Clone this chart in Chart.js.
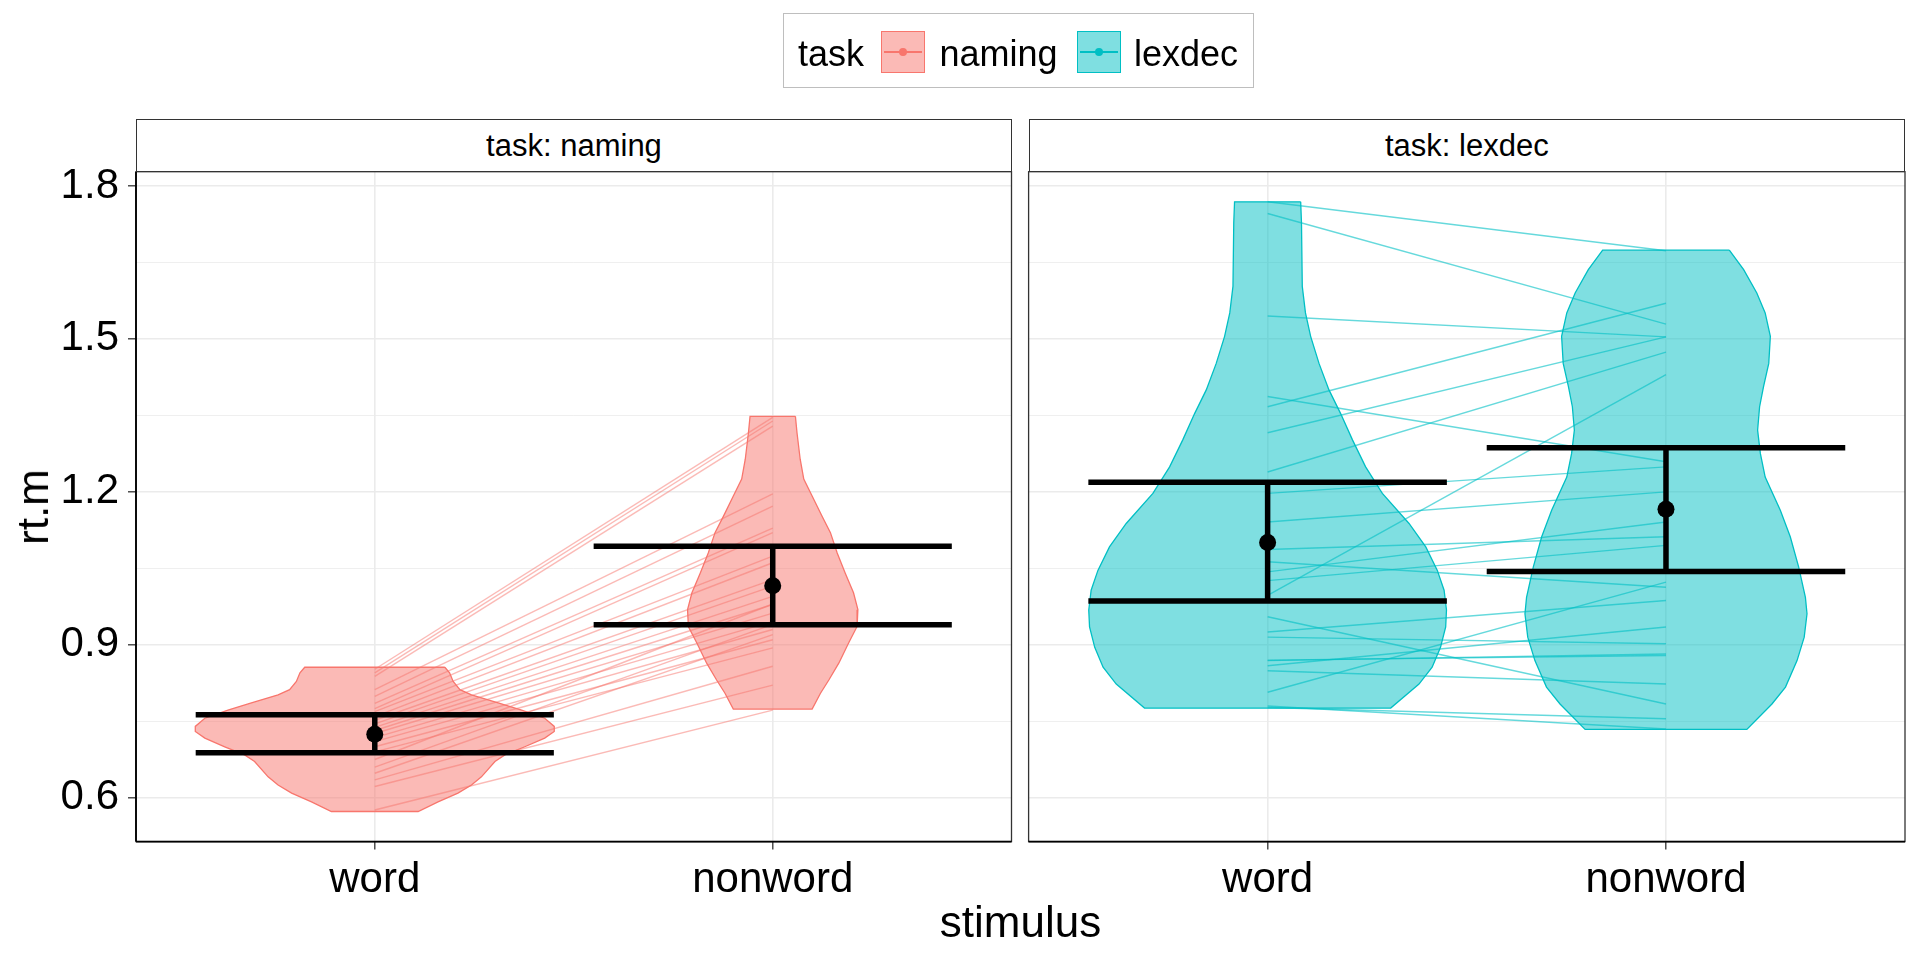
<!DOCTYPE html>
<html>
<head>
<meta charset="utf-8">
<script src="https://cdn.jsdelivr.net/npm/chart.js@4.4.1/dist/chart.umd.min.js"></script>
<style>
html,body{margin:0;padding:0;background:#fff;}
body{width:1920px;height:960px;position:relative;overflow:hidden;font-family:"Liberation Sans",Arial,sans-serif;color:#000;}
canvas{position:absolute;top:0;}
.strip{position:absolute;top:119.4px;height:52.3px;box-sizing:border-box;border:1.3px solid #333;background:#fff;display:flex;align-items:center;justify-content:center;font-size:31px;line-height:31px;white-space:nowrap;}
.txt{position:absolute;white-space:nowrap;}
.key{position:absolute;top:30.5px;width:44px;height:42.5px;box-sizing:border-box;border:1.5px solid;}
.key .ln{position:absolute;left:2px;right:2px;top:19.5px;height:1.6px;}
.key .dt{position:absolute;left:16.5px;top:16.3px;width:8px;height:8px;border-radius:50%;}
</style>
</head>
<body>
<canvas id="c1" width="1020" height="960" style="left:0;width:1020px;height:960px;"></canvas>
<canvas id="c2" width="900" height="960" style="left:1020px;width:900px;height:960px;"></canvas>

<div class="strip" style="left:136px;width:876px;">task: naming</div>
<div class="strip" style="left:1028.6px;width:876.4px;">task: lexdec</div>

<div class="txt" style="left:33px;top:507px;font-size:44px;line-height:44px;transform:translate(-50%,-50%) rotate(-90deg);">rt.m</div>
<div class="txt" style="left:820.5px;width:400px;text-align:center;top:899.8px;font-size:44px;line-height:44px;">stimulus</div>

<div style="position:absolute;left:783px;top:13.3px;width:471px;height:75.2px;box-sizing:border-box;border:1.3px solid #BEBEBE;"></div>
<div class="txt" style="left:798px;top:35.8px;font-size:36px;line-height:36px;">task</div>
<div class="key" style="left:881px;border-color:#F8766D;background:rgba(248,118,109,0.5);"><div class="ln" style="background:#F8766D;"></div><div class="dt" style="background:#F8766D;"></div></div>
<div class="txt" style="left:939.5px;top:35.8px;font-size:36px;line-height:36px;">naming</div>
<div class="key" style="left:1077px;border-color:#00BFC4;background:rgba(0,191,196,0.5);"><div class="ln" style="background:#00BFC4;"></div><div class="dt" style="background:#00BFC4;"></div></div>
<div class="txt" style="left:1134px;top:35.8px;font-size:36px;line-height:36px;">lexdec</div>

<script>
// ---------- data ----------
const categories = ['word', 'nonword'];
const tasks = ['naming', 'lexdec'];
const yMajorTicks = [0.6, 0.9, 1.2, 1.5, 1.8];
const yMinorTicks = [0.75, 1.05, 1.35, 1.65];

// violin outlines: rt.m values (top to bottom) and half-widths (x units)
const namingWordViolinY = [0.856,0.845,0.828,0.812,0.802,0.786,0.772,0.756,0.740,0.730,0.717,0.700,0.684,0.671,0.641,0.625,0.609,0.592,0.573];
const namingWordViolinW = [0.176,0.188,0.197,0.214,0.243,0.310,0.369,0.427,0.451,0.451,0.427,0.377,0.327,0.302,0.268,0.243,0.209,0.159,0.109];
const namingNonwordViolinY = [1.348,1.316,1.264,1.225,1.192,1.152,1.120,1.080,1.041,1.002,0.969,0.936,0.904,0.864,0.831,0.805,0.774];
const namingNonwordViolinW = [0.057,0.061,0.069,0.078,0.099,0.124,0.145,0.162,0.182,0.203,0.214,0.212,0.191,0.166,0.141,0.120,0.099];
const lexdecWordViolinY = [1.769,1.728,1.603,1.551,1.505,1.452,1.400,1.354,1.302,1.249,1.197,1.138,1.092,1.046,1.007,0.968,0.935,0.895,0.856,0.823,0.776];
const lexdecWordViolinW = [0.083,0.085,0.087,0.095,0.108,0.129,0.154,0.183,0.213,0.246,0.288,0.355,0.397,0.426,0.443,0.449,0.447,0.434,0.413,0.380,0.309];
const lexdecNonwordViolinY = [1.674,1.636,1.590,1.551,1.505,1.452,1.407,1.367,1.321,1.275,1.229,1.164,1.112,1.053,0.993,0.961,0.915,0.869,0.817,0.784,0.734];
const lexdecNonwordViolinW = [0.159,0.195,0.228,0.249,0.262,0.258,0.245,0.235,0.230,0.237,0.249,0.287,0.312,0.333,0.350,0.354,0.347,0.329,0.300,0.266,0.203];

// per-participant means (word -> nonword)
const namingWord    = [0.852,0.845,0.838,0.812,0.799,0.785,0.775,0.769,0.759,0.752,0.745,0.738,0.732,0.726,0.718,0.710,0.700,0.690,0.675,0.660,0.648,0.635,0.622,0.576];
const namingNonword = [1.346,1.339,1.329,1.196,1.172,1.129,1.120,1.074,1.061,1.028,1.015,0.995,0.979,0.962,0.946,0.930,0.910,0.894,0.980,0.940,0.920,0.858,0.821,0.772];
const lexdecWord    = [1.769,1.746,1.545,1.387,1.367,1.316,1.239,1.197,1.141,1.087,1.063,1.043,1.026,0.997,0.925,0.915,0.869,0.859,0.849,0.807,0.777,0.780,0.955,0.870];
const lexdecNonword = [1.673,1.529,1.504,1.259,1.570,1.504,1.474,1.249,1.200,1.112,1.013,1.141,1.095,1.430,0.987,0.902,0.882,0.935,0.823,1.023,0.755,0.735,0.784,0.879];

// summary: mean and error bar limits [word, nonword]
const namingMean  = [0.7246, 1.016];
const namingLower = [0.6885, 0.9395];
const namingUpper = [0.7626, 1.0934];
const lexdecMean  = [1.1005, 1.166];
const lexdecLower = [0.9858, 1.044];
const lexdecUpper = [1.219, 1.2866];

// ---------- styling ----------
const FONT = '"Liberation Sans", Arial, sans-serif';
const taskColor = { naming: '#F8766D', lexdec: '#00BFC4' };
const taskFill  = { naming: 'rgba(248,118,109,0.5)', lexdec: 'rgba(0,191,196,0.5)' };
const taskLine  = { naming: 'rgba(248,118,109,0.5)', lexdec: 'rgba(0,191,196,0.6)' };
const yAllTicks = yMajorTicks.concat(yMinorTicks).sort((a, b) => a - b);
const isMajor = v => v !== undefined && yMajorTicks.some(m => Math.abs(m - v) < 1e-6);
const ERR_HALF = 0.45;

function violinPoints(center, ys, ws) {
  const pts = [];
  for (let i = 0; i < ys.length; i++) pts.push({ x: center + ws[i], y: ys[i] });
  for (let i = ys.length - 1; i >= 0; i--) pts.push({ x: center - ws[i], y: ys[i] });
  pts.push({ x: center + ws[0], y: ys[0] });
  return pts;
}

const panelBorder = {
  id: 'panelBorder',
  afterDatasetsDraw(chart, args, opts) {
    const { ctx, chartArea: a } = chart;
    ctx.save();
    ctx.strokeStyle = '#333333';
    ctx.lineWidth = 1.3;
    ctx.strokeRect(a.left, a.top, a.right - a.left, a.bottom - a.top);
    ctx.strokeStyle = '#000';
    ctx.lineWidth = 1.8;
    ctx.beginPath();
    ctx.moveTo(a.left, a.bottom); ctx.lineTo(a.right, a.bottom);
    if (opts.leftAxis) { ctx.moveTo(a.left, a.top); ctx.lineTo(a.left, a.bottom); }
    ctx.stroke();
    ctx.restore();
  }
};

function makePanel(canvasId, task, violins, wordVals, nonVals, mean, lower, upper, first, padRight) {
  const datasets = [];
  const col = taskColor[task];
  // violins
  violins.forEach((v, i) => {
    datasets.push({
      label: task + ' ' + categories[i] + ' violin',
      data: violinPoints(i + 1, v[0], v[1]),
      borderColor: col, backgroundColor: taskFill[task], borderWidth: 1.3,
      fill: 'shape', pointRadius: 0, tension: 0, order: 3
    });
  });
  // participant lines
  wordVals.forEach((w, k) => {
    datasets.push({
      label: task + ' subject ' + (k + 1),
      data: [{ x: 1, y: w }, { x: 2, y: nonVals[k] }],
      borderColor: taskLine[task], borderWidth: 1.4, pointRadius: 0, fill: false, order: 2
    });
  });
  // error bars
  for (let i = 0; i < categories.length; i++) {
    const c = i + 1;
    const eb = { borderColor: '#000', borderWidth: 5.5, pointRadius: 0, fill: false, borderCapStyle: 'butt', order: 1 };
    datasets.push(Object.assign({ label: 'upper', data: [{ x: c - ERR_HALF, y: upper[i] }, { x: c + ERR_HALF, y: upper[i] }] }, eb));
    datasets.push(Object.assign({ label: 'lower', data: [{ x: c - ERR_HALF, y: lower[i] }, { x: c + ERR_HALF, y: lower[i] }] }, eb));
    datasets.push(Object.assign({ label: 'range', data: [{ x: c, y: lower[i] }, { x: c, y: upper[i] }] }, eb));
  }
  datasets.push({
    label: 'mean',
    data: mean.map((m, i) => ({ x: i + 1, y: m })),
    showLine: false, pointRadius: 8.5, pointBackgroundColor: '#000', pointBorderWidth: 0,
    borderColor: '#000', order: 0
  });

  return new Chart(document.getElementById(canvasId), {
    type: 'line',
    data: { datasets },
    plugins: [panelBorder],
    options: {
      responsive: false, animation: false, events: [], devicePixelRatio: 1,
      layout: { padding: { top: 171.7, right: padRight, bottom: 0, left: 0 } },
      plugins: { legend: { display: false }, tooltip: { enabled: false }, panelBorder: { leftAxis: first } },
      scales: {
        x: {
          type: 'linear', min: 0.4, max: 2.6,
          afterBuildTicks: s => { s.ticks = categories.map((c, i) => ({ value: i + 1 })); },
          afterFit: s => { s.height = 960 - 841.6; },
          ticks: { callback: v => categories[Math.round(v) - 1] || '', color: '#000', font: { size: 42, family: FONT }, padding: 6, autoSkip: false, maxRotation: 0 },
          grid: { color: '#EBEBEB', lineWidth: 1.6, drawTicks: true, tickLength: 8, tickColor: '#333333', tickWidth: 1.3 },
          border: { display: false }
        },
        y: {
          type: 'linear', min: 0.514, max: 1.828,
          afterBuildTicks: s => { s.ticks = yAllTicks.map(v => ({ value: v })); },
          afterFit: s => { s.width = first ? 136 : 8.6; },
          ticks: { display: first, callback: v => isMajor(v) ? v.toFixed(1) : '', color: '#000', font: { size: 42, family: FONT }, padding: 9, autoSkip: false },
          grid: {
            color: '#EBEBEB',
            lineWidth: c => isMajor(c.tick && c.tick.value) ? 1.6 : 0.8,
            drawTicks: first, tickLength: 8,
            tickColor: c => isMajor(c.tick && c.tick.value) ? '#333333' : 'rgba(0,0,0,0)',
            tickWidth: 1.3
          },
          border: { display: false }
        }
      }
    }
  });
}

makePanel('c1', 'naming',
  [[namingWordViolinY, namingWordViolinW], [namingNonwordViolinY, namingNonwordViolinW]],
  namingWord, namingNonword, namingMean, namingLower, namingUpper, true, 8);
makePanel('c2', 'lexdec',
  [[lexdecWordViolinY, lexdecWordViolinW], [lexdecNonwordViolinY, lexdecNonwordViolinW]],
  lexdecWord, lexdecNonword, lexdecMean, lexdecLower, lexdecUpper, false, 15);
</script>
</body>
</html>
